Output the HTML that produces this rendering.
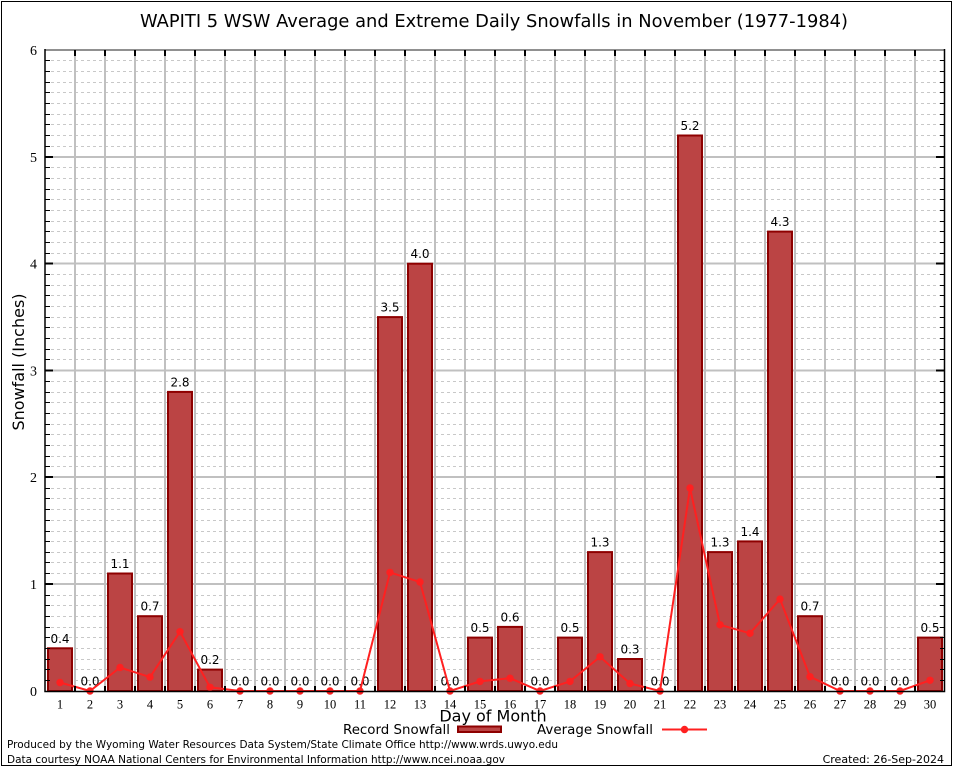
<!DOCTYPE html>
<html><head><meta charset="utf-8"><style>
html,body{margin:0;padding:0;background:#fff;}
svg{display:block;}
.s{font-family:"DejaVu Sans","Liberation Sans",sans-serif;}
.r{font-family:"Liberation Serif","DejaVu Serif",serif;}
</style></head><body>
<svg width="954" height="768" viewBox="0 0 954 768" xmlns="http://www.w3.org/2000/svg">
<rect x="0" y="0" width="954" height="768" fill="#fff"/>
<rect x="1.5" y="1.5" width="950" height="764" fill="none" stroke="#000" stroke-width="1"/>

<text class="s" x="140" y="27" font-size="18" textLength="708" lengthAdjust="spacingAndGlyphs">WAPITI 5 WSW Average and Extreme Daily Snowfalls in November (1977-1984)</text>

<!-- minor dashed grid -->
<path fill="none" stroke="#c8c8c8" stroke-width="1" stroke-dasharray="3,3" d="M45 680.5H945M45 669.5H945M45 659.5H945M45 648.5H945M45 637.5H945M45 627.5H945M45 616.5H945M45 605.5H945M45 595.5H945
M45 573.5H945M45 562.5H945M45 552.5H945M45 541.5H945M45 531.5H945M45 520.5H945M45 509.5H945M45 498.5H945M45 488.5H945
M45 466.5H945M45 456.5H945M45 445.5H945M45 434.5H945M45 424.5H945M45 413.5H945M45 402.5H945M45 392.5H945M45 381.5H945
M45 359.5H945M45 349.5H945M45 338.5H945M45 327.5H945M45 317.5H945M45 306.5H945M45 295.5H945M45 285.5H945M45 274.5H945
M45 253.5H945M45 242.5H945M45 231.5H945M45 221.5H945M45 210.5H945M45 199.5H945M45 189.5H945M45 178.5H945M45 167.5H945
M45 146.5H945M45 135.5H945M45 124.5H945M45 114.5H945M45 103.5H945M45 92.5H945M45 82.5H945M45 71.5H945M45 60.5H945"/>
<!-- major grid -->
<path fill="none" stroke="#c0c0c0" stroke-width="2" d="M45 584H945M45 477H945M45 370.5H945M45 263.5H945M45 157H945
M75 50V691M105 50V691M135 50V691M165 50V691M195 50V691M225 50V691M255 50V691M285 50V691M315 50V691M345 50V691
M375 50V691M405 50V691M435 50V691M465 50V691M495 50V691M525 50V691M555 50V691M585 50V691M615 50V691M645 50V691
M675 50V691M705 50V691M735 50V691M765 50V691M795 50V691M825 50V691M855 50V691M885 50V691M915 50V691"/>

<!-- bars -->
<g fill="#bb4444" stroke="#8e0000" stroke-width="2">
<rect x="48" y="648.3" width="24" height="42.7"/>
<rect x="108" y="573.5" width="24" height="117.5"/>
<rect x="138" y="616.2" width="24" height="74.8"/>
<rect x="168" y="391.9" width="24" height="299.1"/>
<rect x="198" y="669.6" width="24" height="21.4"/>
<rect x="378" y="317.1" width="24" height="373.9"/>
<rect x="408" y="263.7" width="24" height="427.3"/>
<rect x="468" y="637.6" width="24" height="53.4"/>
<rect x="498" y="626.9" width="24" height="64.1"/>
<rect x="558" y="637.6" width="24" height="53.4"/>
<rect x="588" y="552.1" width="24" height="138.9"/>
<rect x="618" y="659" width="24" height="32"/>
<rect x="678" y="135.5" width="24" height="555.5"/>
<rect x="708" y="552.1" width="24" height="138.9"/>
<rect x="738" y="541.4" width="24" height="149.6"/>
<rect x="768" y="231.6" width="24" height="459.4"/>
<rect x="798" y="616.2" width="24" height="74.8"/>
<rect x="918" y="637.6" width="24" height="53.4"/>
</g>

<!-- value labels -->
<g class="s" font-size="12" text-anchor="middle" fill="#000">
<text x="60" y="642.8">0.4</text>
<text x="90" y="685.5">0.0</text>
<text x="120" y="568">1.1</text>
<text x="150" y="610.7">0.7</text>
<text x="180" y="386.4">2.8</text>
<text x="210" y="664.1">0.2</text>
<text x="240" y="685.5">0.0</text>
<text x="270" y="685.5">0.0</text>
<text x="300" y="685.5">0.0</text>
<text x="330" y="685.5">0.0</text>
<text x="360" y="685.5">0.0</text>
<text x="390" y="311.6">3.5</text>
<text x="420" y="258.2">4.0</text>
<text x="450" y="685.5">0.0</text>
<text x="480" y="632.1">0.5</text>
<text x="510" y="621.4">0.6</text>
<text x="540" y="685.5">0.0</text>
<text x="570" y="632.1">0.5</text>
<text x="600" y="546.6">1.3</text>
<text x="630" y="653.5">0.3</text>
<text x="660" y="685.5">0.0</text>
<text x="690" y="130">5.2</text>
<text x="720" y="546.6">1.3</text>
<text x="750" y="535.9">1.4</text>
<text x="780" y="226.1">4.3</text>
<text x="810" y="610.7">0.7</text>
<text x="840" y="685.5">0.0</text>
<text x="870" y="685.5">0.0</text>
<text x="900" y="685.5">0.0</text>
<text x="930" y="632.1">0.5</text>
</g>

<!-- average line -->
<polyline fill="none" stroke="#ff2020" stroke-width="2" points="60,682.5 90,691 120,667.5 150,677.1 180,631.7 210,687.3 240,691 270,691 300,691 330,691 360,691 390,572.4 420,582 450,691 480,681.4 510,678.2 540,691 570,681.4 600,656.8 630,683.5 660,691 690,488 720,624.8 750,633.3 780,599.1 810,676.7 840,691 870,691 900,691 930,680.3"/>
<g fill="#ff2020">
<circle cx="60" cy="682.5" r="3.7"/><circle cx="90" cy="691" r="3.7"/><circle cx="120" cy="667.5" r="3.7"/><circle cx="150" cy="677.1" r="3.7"/><circle cx="180" cy="631.7" r="3.7"/><circle cx="210" cy="687.3" r="3.7"/><circle cx="240" cy="691" r="3.7"/><circle cx="270" cy="691" r="3.7"/><circle cx="300" cy="691" r="3.7"/><circle cx="330" cy="691" r="3.7"/><circle cx="360" cy="691" r="3.7"/><circle cx="390" cy="572.4" r="3.7"/><circle cx="420" cy="582" r="3.7"/><circle cx="450" cy="691" r="3.7"/><circle cx="480" cy="681.4" r="3.7"/><circle cx="510" cy="678.2" r="3.7"/><circle cx="540" cy="691" r="3.7"/><circle cx="570" cy="681.4" r="3.7"/><circle cx="600" cy="656.8" r="3.7"/><circle cx="630" cy="683.5" r="3.7"/><circle cx="660" cy="691" r="3.7"/><circle cx="690" cy="488" r="3.7"/><circle cx="720" cy="624.8" r="3.7"/><circle cx="750" cy="633.3" r="3.7"/><circle cx="780" cy="599.1" r="3.7"/><circle cx="810" cy="676.7" r="3.7"/><circle cx="840" cy="691" r="3.7"/><circle cx="870" cy="691" r="3.7"/><circle cx="900" cy="691" r="3.7"/><circle cx="930" cy="680.3" r="3.7"/>
</g>

<!-- axes border -->
<line x1="45" y1="50" x2="945" y2="50" stroke="#909090" stroke-width="2"/>
<path fill="none" stroke="#000" stroke-width="1.5" d="M45 49V691.5H944.5V49"/>
<!-- ticks -->
<path fill="none" stroke="#000" stroke-width="1" d="M45 680.5h5M45 669.5h5M45 659.5h5M45 648.5h5M45 637.5h5M45 627.5h5M45 616.5h5M45 605.5h5M45 595.5h5
M45 573.5h5M45 562.5h5M45 552.5h5M45 541.5h5M45 531.5h5M45 520.5h5M45 509.5h5M45 498.5h5M45 488.5h5
M45 466.5h5M45 456.5h5M45 445.5h5M45 434.5h5M45 424.5h5M45 413.5h5M45 402.5h5M45 392.5h5M45 381.5h5
M45 359.5h5M45 349.5h5M45 338.5h5M45 327.5h5M45 317.5h5M45 306.5h5M45 295.5h5M45 285.5h5M45 274.5h5
M45 253.5h5M45 242.5h5M45 231.5h5M45 221.5h5M45 210.5h5M45 199.5h5M45 189.5h5M45 178.5h5M45 167.5h5
M45 146.5h5M45 135.5h5M45 124.5h5M45 114.5h5M45 103.5h5M45 92.5h5M45 82.5h5M45 71.5h5M45 60.5h5
M940 680.5h5M940 669.5h5M940 659.5h5M940 648.5h5M940 637.5h5M940 627.5h5M940 616.5h5M940 605.5h5M940 595.5h5
M940 573.5h5M940 562.5h5M940 552.5h5M940 541.5h5M940 531.5h5M940 520.5h5M940 509.5h5M940 498.5h5M940 488.5h5
M940 466.5h5M940 456.5h5M940 445.5h5M940 434.5h5M940 424.5h5M940 413.5h5M940 402.5h5M940 392.5h5M940 381.5h5
M940 359.5h5M940 349.5h5M940 338.5h5M940 327.5h5M940 317.5h5M940 306.5h5M940 295.5h5M940 285.5h5M940 274.5h5
M940 253.5h5M940 242.5h5M940 231.5h5M940 221.5h5M940 210.5h5M940 199.5h5M940 189.5h5M940 178.5h5M940 167.5h5
M940 146.5h5M940 135.5h5M940 124.5h5M940 114.5h5M940 103.5h5M940 92.5h5M940 82.5h5M940 71.5h5M940 60.5h5"/>
<path fill="none" stroke="#000" stroke-width="2" d="M45 584h8M45 477h8M45 370.5h8M45 263.5h8M45 157h8M936 584h8M936 477h8M936 370.5h8M936 263.5h8M936 157h8
M75 50v6M105 50v6M135 50v6M165 50v6M195 50v6M225 50v6M255 50v6M285 50v6M315 50v6M345 50v6M375 50v6M405 50v6M435 50v6M465 50v6M495 50v6M525 50v6M555 50v6M585 50v6M615 50v6M645 50v6M675 50v6M705 50v6M735 50v6M765 50v6M795 50v6M825 50v6M855 50v6M885 50v6M915 50v6
M75 691v-5M105 691v-5M135 691v-5M165 691v-5M195 691v-5M225 691v-5M255 691v-5M285 691v-5M315 691v-5M345 691v-5M375 691v-5M405 691v-5M435 691v-5M465 691v-5M495 691v-5M525 691v-5M555 691v-5M585 691v-5M615 691v-5M645 691v-5M675 691v-5M705 691v-5M735 691v-5M765 691v-5M795 691v-5M825 691v-5M855 691v-5M885 691v-5M915 691v-5"/>

<!-- y tick labels -->
<g class="r" font-size="14" text-anchor="end" fill="#000">
<text x="37" y="696">0</text>
<text x="37" y="589">1</text>
<text x="37" y="482">2</text>
<text x="37" y="375.5">3</text>
<text x="37" y="268.5">4</text>
<text x="37" y="162">5</text>
<text x="37" y="55">6</text>
</g>
<!-- x tick labels -->
<g class="r" font-size="12.5" text-anchor="middle" fill="#000">
<text x="60" y="708.5">1</text><text x="90" y="708.5">2</text><text x="120" y="708.5">3</text><text x="150" y="708.5">4</text><text x="180" y="708.5">5</text><text x="210" y="708.5">6</text><text x="240" y="708.5">7</text><text x="270" y="708.5">8</text><text x="300" y="708.5">9</text><text x="330" y="708.5">10</text>
<text x="360" y="708.5">11</text><text x="390" y="708.5">12</text><text x="420" y="708.5">13</text><text x="450" y="708.5">14</text><text x="480" y="708.5">15</text><text x="510" y="708.5">16</text><text x="540" y="708.5">17</text><text x="570" y="708.5">18</text><text x="600" y="708.5">19</text><text x="630" y="708.5">20</text>
<text x="660" y="708.5">21</text><text x="690" y="708.5">22</text><text x="720" y="708.5">23</text><text x="750" y="708.5">24</text><text x="780" y="708.5">25</text><text x="810" y="708.5">26</text><text x="840" y="708.5">27</text><text x="870" y="708.5">28</text><text x="900" y="708.5">29</text><text x="930" y="708.5">30</text>
</g>

<text class="s" x="0" y="0" font-size="16" text-anchor="middle" transform="translate(24,362) rotate(-90)">Snowfall (Inches)</text>
<text class="s" x="493" y="721.5" font-size="16" text-anchor="middle">Day of Month</text>

<!-- legend -->
<text class="s" x="343" y="734" font-size="13" textLength="107" lengthAdjust="spacingAndGlyphs">Record Snowfall</text>
<rect x="458" y="726.5" width="43" height="5.5" fill="#bb4444" stroke="#8e0000" stroke-width="2"/>
<text class="s" x="537" y="734" font-size="13" textLength="116" lengthAdjust="spacingAndGlyphs">Average Snowfall</text>
<line x1="662" y1="729.5" x2="707" y2="729.5" stroke="#ff2020" stroke-width="2"/>
<circle cx="684.5" cy="729.5" r="3.7" fill="#ff2020"/>

<!-- footer -->
<text class="s" x="7" y="748" font-size="11" textLength="551" lengthAdjust="spacingAndGlyphs">Produced by the Wyoming Water Resources Data System/State Climate Office http://www.wrds.uwyo.edu</text>
<text class="s" x="7" y="763" font-size="11" textLength="498" lengthAdjust="spacingAndGlyphs">Data courtesy NOAA National Centers for Environmental Information http://www.ncei.noaa.gov</text>
<text class="s" x="944" y="763" font-size="11" text-anchor="end">Created:  26-Sep-2024</text>
</svg>
</body></html>
